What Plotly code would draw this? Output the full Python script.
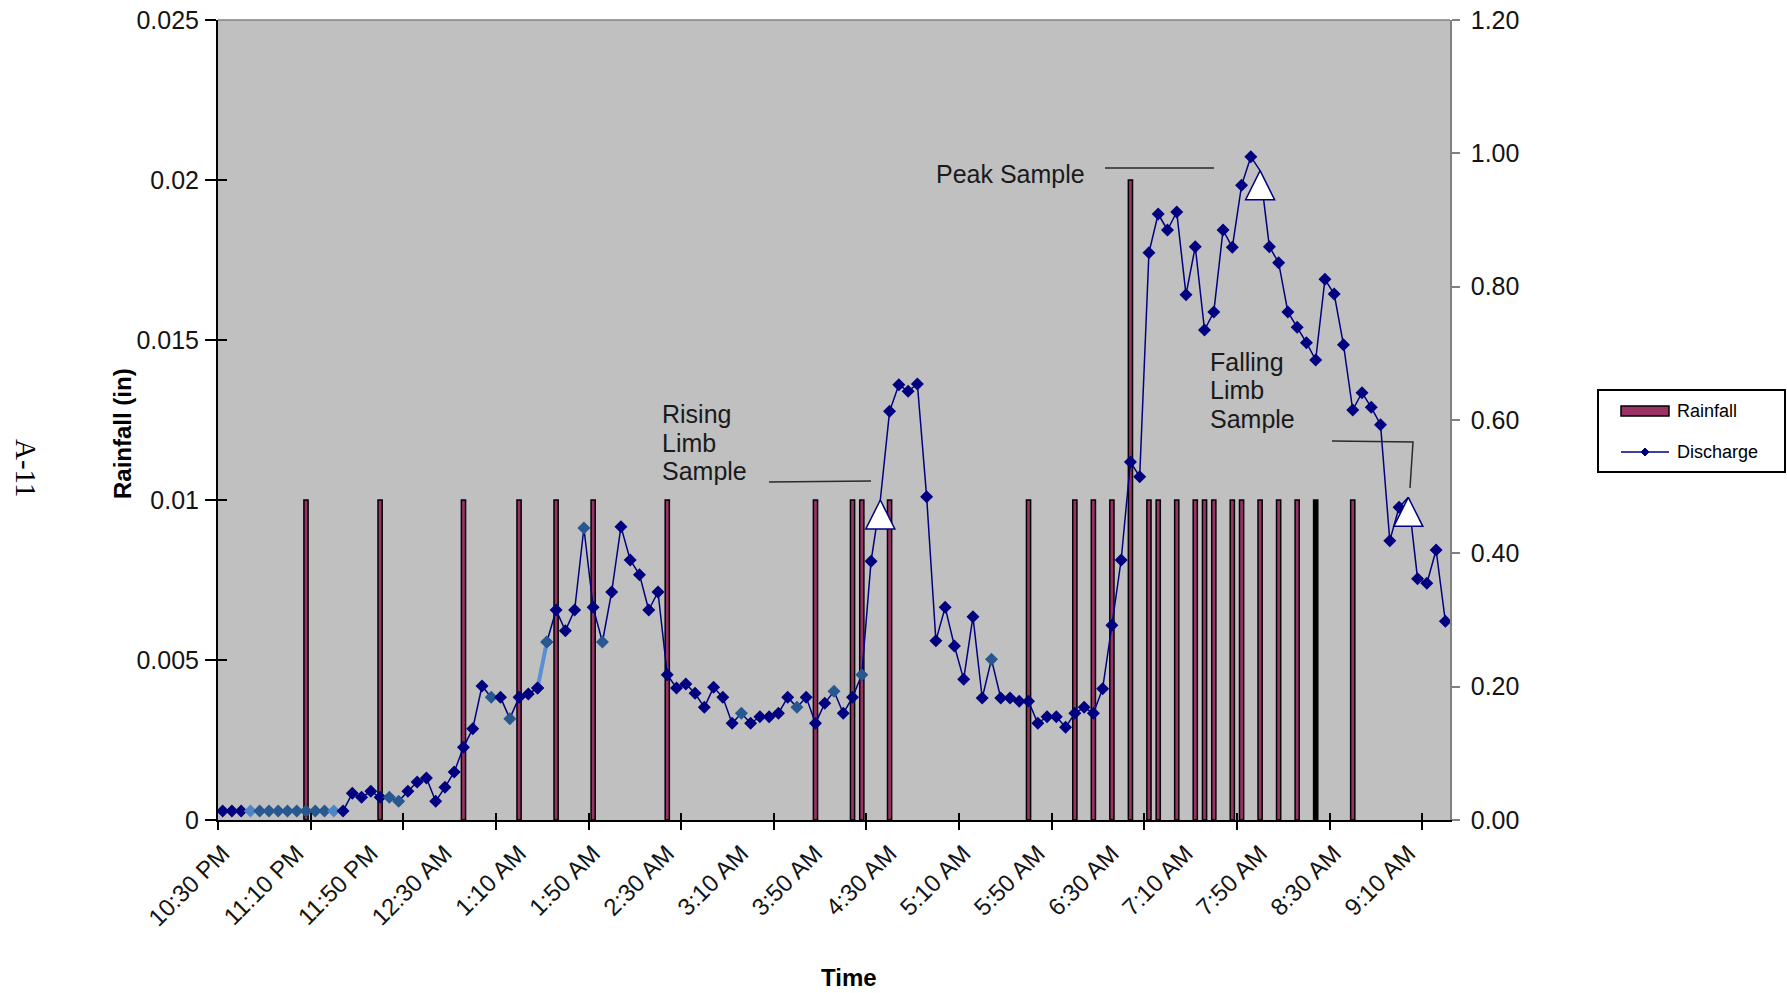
import pandas as pd
import plotly.graph_objects as go

# ---- data -------------------------------------------------------------
# 5-minute record starting 10:30 PM
times = pd.date_range("2000-01-01 22:30", periods=133, freq="5min")
time_labels = [t.strftime("%I:%M %p").lstrip("0") for t in times]

# discharge (right axis)
discharge = [
    0.0135, 0.0135, 0.0135, 0.0135, 0.0135, 0.0135, 0.0135, 0.0135, 0.0135, 0.0135,
    0.0135, 0.0135, 0.0135, 0.0135, 0.040, 0.034, 0.043, 0.034, 0.034, 0.028,
    0.043, 0.057, 0.063, 0.028, 0.049, 0.072, 0.109, 0.137, 0.201, 0.184,
    0.184, 0.152, 0.184, 0.189, 0.198, 0.267, 0.315, 0.284, 0.315, 0.438,
    0.319, 0.267, 0.342, 0.440, 0.390, 0.368, 0.315, 0.342, 0.218, 0.198,
    0.204, 0.190, 0.169, 0.199, 0.184, 0.145, 0.160, 0.145, 0.155, 0.155,
    0.160, 0.184, 0.169, 0.184, 0.145, 0.175, 0.193, 0.160, 0.184, 0.218,
    0.388, 0.480, 0.613, 0.653, 0.643, 0.654, 0.485, 0.269, 0.319, 0.261,
    0.211, 0.305, 0.183, 0.241, 0.183, 0.183, 0.178, 0.178, 0.145, 0.155,
    0.155, 0.139, 0.160, 0.169, 0.160, 0.197, 0.292, 0.390, 0.537, 0.515,
    0.851, 0.909, 0.885, 0.912, 0.788, 0.860, 0.735, 0.762, 0.885, 0.859,
    0.952, 0.995, 0.974, 0.860, 0.836, 0.762, 0.739, 0.716, 0.690, 0.811,
    0.789, 0.713, 0.615, 0.641, 0.619, 0.593, 0.419, 0.469, 0.484, 0.362,
    0.355, 0.405, 0.298,
]

# rainfall (left axis)
rain_times = [
    "11:15 PM", "11:55 PM", "12:40 AM", "1:10 AM", "1:30 AM", "1:50 AM", "2:30 AM",
    "3:50 AM", "4:10 AM", "4:15 AM", "4:30 AM", "5:45 AM", "6:10 AM", "6:20 AM",
    "6:30 AM", "6:40 AM", "6:50 AM", "6:55 AM", "7:05 AM", "7:15 AM", "7:20 AM",
    "7:25 AM", "7:35 AM", "7:40 AM", "7:50 AM", "8:00 AM", "8:10 AM", "8:20 AM",
    "8:40 AM",
]
rain_in = [0.01] * 15 + [0.02] + [0.01] * 13

# sample collection times
sample_times = ["4:25 AM", "7:50 AM", "9:10 AM"]

left_ticks = [0, 0.005, 0.01, 0.015, 0.02, 0.025]
left_ticktext = ["0", "0.005", "0.01", "0.015", "0.02", "0.025"]
right_ticks = [0, 0.2, 0.4, 0.6, 0.8, 1.0, 1.2]
label_step = 8
tick_step = 10

# ---- derived positions ------------------------------------------------
xs = list(range(len(times)))
rain_x = [time_labels.index(t) for t in rain_times]
sample_x = [time_labels.index(t) for t in sample_times]
sample_y = [discharge[i] for i in sample_x]
label_x = list(range(0, len(times), label_step))
boundary_x = [i - 0.5 for i in range(0, len(times), tick_step)]

NAVY = "#000080"
STEEL = "#27588f"
LIGHT = "#4d86c6"
marker_colors = [NAVY] * len(times)
for i in (4, 5, 6, 7, 8, 9, 10, 11, 18, 19, 29, 31, 35, 39, 41, 56, 62, 66, 69, 83):
    marker_colors[i] = STEEL
for i in (3, 12):
    marker_colors[i] = LIGHT
# sampled points are shown by the triangle symbol instead of a diamond
marker_sizes = [0 if i in sample_x else 10 for i in xs]

bar_colors = ["#000000" if t == "8:20 AM" else "#993366" for t in rain_times]

FONT = "Liberation Sans, Arial, sans-serif"
XR = [-0.5, len(times) - 0.5]

# plot-area geometry in pixels
PL, PT, PW, PH = 218, 20, 1232, 800


def px_x(v):
    return (v - PL) / PW


def px_y(v):
    return (PT + PH - v) / PH


fig = go.Figure()

fig.add_trace(go.Bar(
    x=rain_x, y=rain_in, width=0.45, yaxis="y", name="Rainfall",
    marker=dict(color=bar_colors, line=dict(color="black", width=1.5)),
))
fig.add_trace(go.Scatter(
    x=xs, y=discharge, yaxis="y2", mode="lines+markers", name="Discharge",
    line=dict(color=NAVY, width=1.5),
    marker=dict(symbol="diamond", size=marker_sizes, color=marker_colors,
                opacity=1, line=dict(width=0)),
))
# highlighted segment
fig.add_trace(go.Scatter(
    x=xs[34:36], y=discharge[34:36], yaxis="y2", mode="lines+markers",
    line=dict(color="#5b8fd3", width=4),
    marker=dict(symbol="diamond", size=10, color=[marker_colors[34], marker_colors[35]],
                opacity=1, line=dict(width=0)),
))
# sample markers: apex of the triangle sits on the sampled discharge
fig.add_trace(go.Scatter(
    x=sample_x, y=sample_y, yaxis="y2", mode="markers", name="Sample",
    marker=dict(symbol="arrow-up", size=29, color="white",
                line=dict(color=NAVY, width=1.5)),
))
# carrier for the inner tick marks
fig.add_trace(go.Scatter(x=[None], y=[None], xaxis="x3", yaxis="y3",
                         hoverinfo="skip", showlegend=False))

fig.update_layout(
    width=1787, height=993,
    margin=dict(l=PL, r=1787 - PL - PW, t=PT, b=993 - PT - PH),
    plot_bgcolor="#C0C0C0", paper_bgcolor="white",
    showlegend=False,
    font=dict(family=FONT, color="#141414"),
    xaxis=dict(
        range=XR, tickmode="array", tickvals=label_x,
        ticktext=[time_labels[i] for i in label_x], automargin=False,
        tickangle=-45, ticks="", showline=True, linecolor="black", linewidth=1.5,
        showgrid=False, zeroline=False, tickfont=dict(size=24, color="#141414"),
        ticklabelstandoff=8,
        minor=dict(tickmode="array", tickvals=boundary_x, ticks="outside",
                   ticklen=8, tickwidth=1.5, tickcolor="black", showgrid=False),
    ),
    xaxis3=dict(
        range=XR, overlaying="x", anchor="y", tickmode="array", tickvals=boundary_x,
        ticks="inside", ticklen=7, tickwidth=1.5, tickcolor="black", automargin=False,
        showticklabels=False, showline=False, showgrid=False, zeroline=False,
    ),
    yaxis=dict(
        range=[0, 0.025], tickmode="array", tickvals=left_ticks, ticktext=left_ticktext,
        ticks="outside", ticklen=11, tickwidth=1.5, tickcolor="black", automargin=False,
        showline=True, linecolor="black", linewidth=2, showgrid=False, zeroline=False,
        tickfont=dict(size=25, color="#141414"), ticklabelstandoff=1,
    ),
    yaxis3=dict(
        range=[0, 0.025], overlaying="y", anchor="x", side="left", automargin=False,
        tickmode="array", tickvals=left_ticks, ticks="inside", ticklen=9,
        tickwidth=1.5, tickcolor="black", showticklabels=False,
        showline=False, showgrid=False, zeroline=False,
    ),
    yaxis2=dict(
        range=[0, 1.2], overlaying="y", side="right", anchor="x", automargin=False,
        tickmode="array", tickvals=right_ticks, tickformat=".2f",
        ticks="outside", ticklen=8, tickwidth=1.5, tickcolor="#808080",
        showline=True, linecolor="#808080", linewidth=1.5,
        showgrid=False, zeroline=False,
        tickfont=dict(size=25, color="#141414"), ticklabelstandoff=6,
    ),
)

shapes = []
# top border of the plot area
shapes.append(dict(type="line", xref="paper", yref="paper", x0=0, x1=1, y0=1, y1=1,
                   line=dict(color="#808080", width=1.5)))

# leader lines for the sample notes
LINE = dict(color="#2a2a2a", width=1.5)
shapes.append(dict(type="line", xref="paper", yref="paper",
                   x0=px_x(1105), x1=px_x(1214), y0=px_y(168), y1=px_y(168), line=LINE))
shapes.append(dict(type="line", xref="paper", yref="paper",
                   x0=px_x(769), x1=px_x(871), y0=px_y(482), y1=px_y(481), line=LINE))
shapes.append(dict(type="path", xref="paper", yref="paper", line=LINE,
                   path=f"M{px_x(1332)},{px_y(441)} L{px_x(1413)},{px_y(442)} "
                        f"L{px_x(1410)},{px_y(488)}"))

# legend box
shapes.append(dict(type="rect", xref="paper", yref="paper",
                   x0=px_x(1598), x1=px_x(1785), y0=px_y(472), y1=px_y(390),
                   line=dict(color="black", width=2), fillcolor="white"))
shapes.append(dict(type="rect", xref="paper", yref="paper",
                   x0=px_x(1621), x1=px_x(1669), y0=px_y(416), y1=px_y(406),
                   line=dict(color="black", width=1.5), fillcolor="#993366"))
shapes.append(dict(type="line", xref="paper", yref="paper",
                   x0=px_x(1621), x1=px_x(1669), y0=px_y(452), y1=px_y(452),
                   line=dict(color=NAVY, width=1.5)))
cx, cy, d = 1645, 452, 4
shapes.append(dict(type="path", xref="paper", yref="paper", fillcolor=NAVY,
                   line=dict(color=NAVY, width=1),
                   path=f"M{px_x(cx - d)},{px_y(cy)} L{px_x(cx)},{px_y(cy - d)} "
                        f"L{px_x(cx + d)},{px_y(cy)} L{px_x(cx)},{px_y(cy + d)} Z"))
fig.update_layout(shapes=shapes)

notes = [
    ("Peak Sample", 934, 174),
    ("Rising", 660, 414), ("Limb", 660, 443), ("Sample", 660, 471),
    ("Falling", 1208, 362), ("Limb", 1208, 390), ("Sample", 1208, 419),
]
ann = []
for text, x, y in notes:
    ann.append(dict(text=text, xref="paper", yref="paper", x=px_x(x), y=px_y(y),
                    xanchor="left", yanchor="middle", showarrow=False,
                    font=dict(size=25, color="#1a1a1a", family=FONT)))

ann.append(dict(text="Rainfall", xref="paper", yref="paper", x=px_x(1675), y=px_y(411),
                xanchor="left", yanchor="middle", showarrow=False,
                font=dict(size=18, color="black", family=FONT)))
ann.append(dict(text="Discharge", xref="paper", yref="paper", x=px_x(1675), y=px_y(452),
                xanchor="left", yanchor="middle", showarrow=False,
                font=dict(size=18, color="black", family=FONT)))

ann.append(dict(text="<b>Time</b>", xref="paper", yref="paper", x=px_x(849), y=px_y(977),
                xanchor="center", yanchor="middle", showarrow=False,
                font=dict(size=24, color="black", family=FONT)))
ann.append(dict(text="<b>Rainfall (in)</b>", xref="paper", yref="paper",
                x=px_x(122), y=px_y(434), textangle=-90,
                xanchor="center", yanchor="middle", showarrow=False,
                font=dict(size=24, color="black", family=FONT)))
ann.append(dict(text="A-11", xref="paper", yref="paper", x=px_x(26), y=px_y(468),
                textangle=90, xanchor="center", yanchor="middle", showarrow=False,
                font=dict(size=29, color="black",
                          family="Liberation Serif, Times New Roman, serif")))
fig.update_layout(annotations=ann)

fig.write_html("out.html")
